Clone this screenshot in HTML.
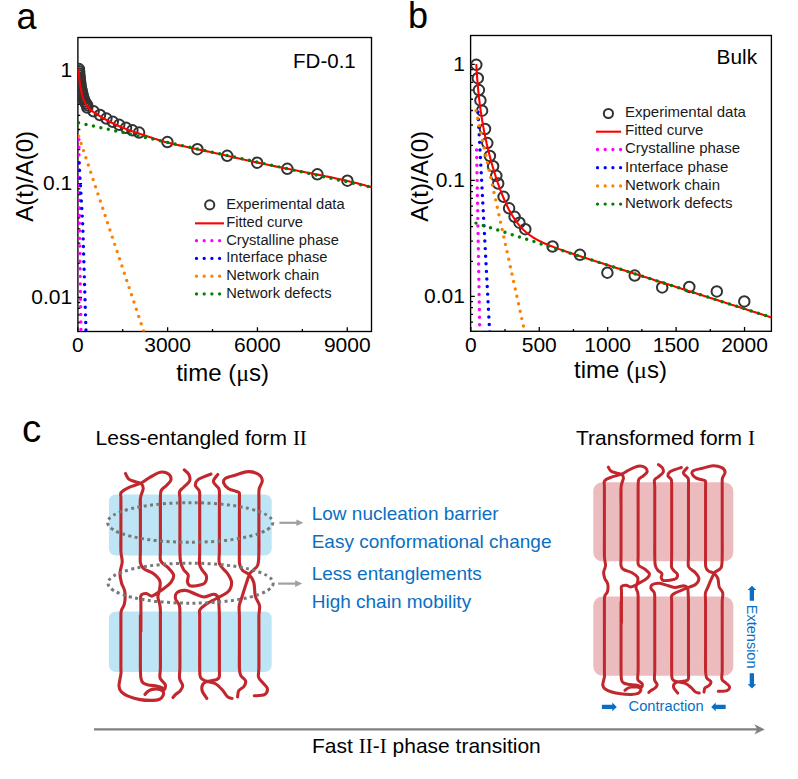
<!DOCTYPE html><html><head><meta charset="utf-8"><style>html,body{margin:0;padding:0;background:#fff;width:798px;height:779px;overflow:hidden}</style></head><body><svg width="798" height="779" viewBox="0 0 798 779" style="display:block">
<rect width="798" height="779" fill="#fff"/>
<text x="16.5" y="29" font-family='"Liberation Sans", sans-serif' font-size="36" fill="#000" text-anchor="start" >a</text>
<text x="408" y="27.6" font-family='"Liberation Sans", sans-serif' font-size="36" fill="#000" text-anchor="start" >b</text>
<text x="22" y="442" font-family='"Liberation Sans", sans-serif' font-size="38.5" fill="#000" text-anchor="start" >c</text>
<defs><clipPath id="ca"><rect x="77.9" y="37.5" width="293.6" height="294"/></clipPath></defs>
<rect x="77.9" y="37.5" width="293.6" height="294" fill="none" stroke="#000" stroke-width="1.35"/>
<path d="M77.8 331.5V327.3M167.62 331.5V327.3M257.44 331.5V327.3M347.26 331.5V327.3M122.71 331.5V329.1M212.53 331.5V329.1M302.35 331.5V329.1M77.9 322.5H80.3M77.9 314.9H80.3M77.9 308.31H80.3M77.9 302.5H80.3M77.9 297.3H82.1M77.9 263.1H80.3M77.9 243.1H80.3M77.9 228.91H80.3M77.9 217.9H80.3M77.9 208.9H80.3M77.9 201.3H80.3M77.9 194.71H80.3M77.9 188.9H80.3M77.9 183.7H82.1M77.9 149.5H80.3M77.9 129.5H80.3M77.9 115.31H80.3M77.9 104.3H80.3M77.9 95.3H80.3M77.9 87.7H80.3M77.9 81.11H80.3M77.9 75.3H80.3M77.9 70.1H82.1" stroke="#000" stroke-width="1.3" fill="none"/>
<text x="77.8" y="351.8" font-family='"Liberation Sans", sans-serif' font-size="21" fill="#000" text-anchor="middle" >0</text>
<text x="167.62" y="351.8" font-family='"Liberation Sans", sans-serif' font-size="21" fill="#000" text-anchor="middle" >3000</text>
<text x="257.44" y="351.8" font-family='"Liberation Sans", sans-serif' font-size="21" fill="#000" text-anchor="middle" >6000</text>
<text x="347.26" y="351.8" font-family='"Liberation Sans", sans-serif' font-size="21" fill="#000" text-anchor="middle" >9000</text>
<text x="72.2" y="76.5" font-family='"Liberation Sans", sans-serif' font-size="21" fill="#000" text-anchor="end" >1</text>
<text x="72.2" y="190.1" font-family='"Liberation Sans", sans-serif' font-size="21" fill="#000" text-anchor="end" >0.1</text>
<text x="72.2" y="303.7" font-family='"Liberation Sans", sans-serif' font-size="21" fill="#000" text-anchor="end" >0.01</text>
<text x="176.2" y="380.7" font-family='"Liberation Sans", sans-serif' font-size="24" fill="#000" text-anchor="start" >time (<tspan font-family='"Liberation Serif", serif'>&#956;</tspan>s)</text>
<text transform="translate(33.4 221.7) rotate(-90)" font-family='"Liberation Sans", sans-serif' font-size="24" fill="#000">A(t)/A(0)</text>
<text x="293.1" y="68.3" font-family='"Liberation Sans", sans-serif' font-size="20.5" fill="#000" text-anchor="start" >FD-0.1</text>
<g clip-path="url(#ca)" fill="none" stroke="#333" stroke-width="2">
<circle cx="78.92" cy="69.1" r="5.25"/>
<circle cx="79.06" cy="71.3" r="5.25"/>
<circle cx="79.22" cy="73.5" r="5.25"/>
<circle cx="79.41" cy="75.69" r="5.25"/>
<circle cx="79.63" cy="77.88" r="5.25"/>
<circle cx="79.86" cy="80.06" r="5.25"/>
<circle cx="80.12" cy="82.24" r="5.25"/>
<circle cx="80.42" cy="84.43" r="5.25"/>
<circle cx="80.76" cy="86.61" r="5.25"/>
<circle cx="81.14" cy="88.77" r="5.25"/>
<circle cx="81.57" cy="90.92" r="5.25"/>
<circle cx="82.04" cy="93.09" r="5.25"/>
<circle cx="82.58" cy="95.27" r="5.25"/>
<circle cx="83.2" cy="97.41" r="5.25"/>
<circle cx="83.92" cy="99.47" r="5.25"/>
<circle cx="84.74" cy="101.43" r="5.25"/>
<circle cx="85.82" cy="103.32" r="5.25"/>
<circle cx="87.12" cy="105.15" r="5.25"/>
<circle cx="87.3" cy="107.6" r="5.25"/>
<circle cx="93.6" cy="111.3" r="5.25"/>
<circle cx="100" cy="115" r="5.25"/>
<circle cx="106.4" cy="118.6" r="5.25"/>
<circle cx="112.8" cy="121.8" r="5.25"/>
<circle cx="119.2" cy="124.8" r="5.25"/>
<circle cx="126" cy="127.8" r="5.25"/>
<circle cx="132.4" cy="130.3" r="5.25"/>
<circle cx="139.1" cy="132.6" r="5.25"/>
<circle cx="167.4" cy="142.1" r="5.25"/>
<circle cx="197.4" cy="149.2" r="5.25"/>
<circle cx="227.2" cy="155.8" r="5.25"/>
<circle cx="257.2" cy="162.7" r="5.25"/>
<circle cx="287.3" cy="168.8" r="5.25"/>
<circle cx="317.4" cy="174.3" r="5.25"/>
<circle cx="347.4" cy="180.7" r="5.25"/>
</g>
<path d="M78.6 68.9 78.66 70.03 78.73 71.16 78.8 72.29 78.89 73.41 78.98 74.54 79.08 75.66 79.19 76.78 79.3 77.91 79.42 79.03 79.54 80.15 79.66 81.27 79.8 82.39 79.95 83.51 80.1 84.63 80.27 85.75 80.45 86.87 80.64 87.98 80.85 89.09 81.06 90.2 81.28 91.3 81.52 92.41 81.77 93.52 82.04 94.64 82.33 95.76 82.65 96.86 82.98 97.95 83.34 99.01 83.73 100.05 84.14 101.06 84.6 102.04 85.14 103.01 85.75 103.97 86.41 104.91 87.12 105.83 87.87 106.73 88.64 107.59 89.42 108.42 90.21 109.21 91 109.96 91.83 110.68 92.7 111.38 93.6 112.06 94.53 112.71 95.48 113.35 96.44 113.98 97.41 114.59 98.39 115.19 99.36 115.79 100.33 116.38 101.29 116.96 102.26 117.54 103.23 118.11 104.21 118.68 105.19 119.23 106.18 119.79 107.17 120.33 108.17 120.87 109.17 121.4 110.17 121.92 111.18 122.43 112.19 122.94 113.21 123.43 114.22 123.92 115.24 124.4 116.26 124.88 117.29 125.34 118.32 125.8 119.35 126.24 120.39 126.69 121.43 127.12 122.48 127.55 123.53 127.97 124.58 128.39 125.63 128.8 126.69 129.21 127.74 129.61 128.8 130.01 129.86 130.4 130.92 130.79 131.98 131.17 133.04 131.55 134.11 131.92 135.18 132.28 136.25 132.64 137.32 133 138.4 133.35 139.47 133.7 140.54 134.05 141.61 134.4 142.69 134.75 143.76 135.11 144.83 135.47 145.9 135.82 146.97 136.18 148.05 136.54 149.12 136.9 150.19 137.26 151.26 137.61 152.34 137.97 153.41 138.32 154.49 138.67 155.56 139.01 156.64 139.36 157.71 139.7 158.79 140.04 159.87 140.37 160.95 140.69 162.03 141.02 163.11 141.33 164.2 141.64 165.28 141.95 166.37 142.25 167.46 142.54 168.55 142.82 169.64 143.1 170.73 143.37 171.82 143.64 172.92 143.9 174.02 144.16 175.12 144.41 176.22 144.66 177.32 144.91 178.42 145.15 179.52 145.39 180.63 145.63 181.73 145.87 182.84 146.11 183.94 146.34 185.05 146.57 186.15 146.81 187.26 147.04 188.37 147.27 189.47 147.5 190.58 147.73 191.68 147.97 192.79 148.2 193.89 148.44 195 148.67 196.1 148.91 197.2 149.16 198.31 149.4 199.41 149.65 200.51 149.89 201.61 150.13 202.71 150.38 203.82 150.62 204.92 150.87 206.02 151.11 207.12 151.35 208.22 151.6 209.33 151.84 210.43 152.08 211.53 152.33 212.63 152.57 213.74 152.82 214.84 153.06 215.94 153.3 217.04 153.55 218.14 153.79 219.25 154.04 220.35 154.28 221.45 154.52 222.55 154.77 223.65 155.01 224.76 155.26 225.86 155.5 226.96 155.75 228.06 155.99 229.16 156.24 230.26 156.48 231.37 156.73 232.47 156.98 233.57 157.23 234.67 157.47 235.77 157.72 236.87 157.97 237.97 158.22 239.07 158.47 240.18 158.72 241.28 158.97 242.38 159.21 243.48 159.46 244.58 159.71 245.68 159.96 246.78 160.2 247.89 160.45 248.99 160.7 250.09 160.94 251.19 161.18 252.29 161.43 253.4 161.67 254.5 161.91 255.6 162.15 256.7 162.39 257.81 162.63 258.91 162.87 260.01 163.11 261.12 163.34 262.22 163.58 263.32 163.82 264.43 164.05 265.53 164.29 266.64 164.52 267.74 164.76 268.85 164.99 269.95 165.22 271.05 165.46 272.16 165.69 273.26 165.92 274.37 166.15 275.47 166.38 276.58 166.61 277.68 166.84 278.79 167.07 279.9 167.3 281 167.52 282.11 167.75 283.21 167.97 284.32 168.2 285.43 168.42 286.53 168.65 287.64 168.87 288.75 169.09 289.85 169.31 290.96 169.52 292.07 169.74 293.18 169.96 294.29 170.17 295.39 170.38 296.5 170.59 297.61 170.8 298.72 171.01 299.83 171.22 300.94 171.43 302.05 171.64 303.16 171.85 304.27 172.06 305.38 172.27 306.49 172.48 307.59 172.69 308.7 172.9 309.81 173.11 310.92 173.33 312.03 173.54 313.14 173.76 314.24 173.97 315.35 174.19 316.46 174.41 317.57 174.63 318.67 174.86 319.78 175.08 320.89 175.3 321.99 175.52 323.1 175.74 324.21 175.96 325.31 176.19 326.42 176.41 327.53 176.63 328.64 176.86 329.74 177.08 330.85 177.31 331.95 177.53 333.06 177.76 334.17 177.99 335.27 178.22 336.38 178.45 337.48 178.69 338.58 178.93 339.69 179.16 340.79 179.4 341.89 179.65 342.99 179.89 344.09 180.14 345.19 180.39 346.29 180.64 347.39 180.9 348.49 181.16 349.59 181.42 350.68 181.68 351.78 181.95 352.87 182.22 353.97 182.49 355.06 182.77 356.16 183.05 357.25 183.33 358.34 183.61 359.44 183.9 360.53 184.19 361.62 184.48 362.71 184.77 363.8 185.06 364.89 185.36 365.98 185.66 367.07 185.96 368.15 186.27 369.24 186.57 370.33 186.88 371.41 187.19 372.5 187.5" fill="none" stroke="#f00" stroke-width="2.1" clip-path="url(#ca)"/>
<path d="M78.9 139.6 79.4 224.4 81 334" fill="none" stroke="#f0f" stroke-width="3.45" stroke-linecap="round" stroke-dasharray="0 7.6" clip-path="url(#ca)"/>
<path d="M79.1 163 82.7 224 86.1 334" fill="none" stroke="#00f" stroke-width="3.45" stroke-linecap="round" stroke-dasharray="0 7.6" clip-path="url(#ca)"/>
<path d="M78.7 136.2 144.6 334" fill="none" stroke="#ff7f00" stroke-width="3.45" stroke-linecap="round" stroke-dasharray="0 7.6" clip-path="url(#ca)"/>
<path d="M78.6 122.8 371.5 187.2" fill="none" stroke="#008000" stroke-width="3.45" stroke-linecap="round" stroke-dasharray="0 7.6" clip-path="url(#ca)"/>
<circle cx="209.7" cy="204.9" r="4.6" fill="none" stroke="#333" stroke-width="2"/>
<text x="226.2" y="209" font-family='"Liberation Sans", sans-serif' font-size="14.7" fill="#1a1a1a" text-anchor="start" >Experimental data</text>
<path d="M195 223.35H224" stroke="#f00" stroke-width="2.1"/>
<text x="226.2" y="226.75" font-family='"Liberation Sans", sans-serif' font-size="14.7" fill="#1a1a1a" text-anchor="start" >Fitted curve</text>
<path d="M196.5 240.7H219.7" stroke="#f0f" stroke-width="3.3" stroke-linecap="round" stroke-dasharray="0 7.7"/>
<text x="226.2" y="244.5" font-family='"Liberation Sans", sans-serif' font-size="14.7" fill="#1a1a1a" text-anchor="start" >Crystalline phase</text>
<path d="M196.5 258.45H219.7" stroke="#00f" stroke-width="3.3" stroke-linecap="round" stroke-dasharray="0 7.7"/>
<text x="226.2" y="262.25" font-family='"Liberation Sans", sans-serif' font-size="14.7" fill="#1a1a1a" text-anchor="start" >Interface phase</text>
<path d="M196.5 276.2H219.7" stroke="#ff7f00" stroke-width="3.3" stroke-linecap="round" stroke-dasharray="0 7.7"/>
<text x="226.2" y="280" font-family='"Liberation Sans", sans-serif' font-size="14.7" fill="#1a1a1a" text-anchor="start" >Network chain</text>
<path d="M196.5 293.95H219.7" stroke="#008000" stroke-width="3.3" stroke-linecap="round" stroke-dasharray="0 7.7"/>
<text x="226.2" y="297.75" font-family='"Liberation Sans", sans-serif' font-size="14.7" fill="#1a1a1a" text-anchor="start" >Network defects</text>
<defs><clipPath id="cb"><rect x="470.6" y="35.5" width="300.8" height="295.8"/></clipPath></defs>
<rect x="470.6" y="35.5" width="300.8" height="295.8" fill="none" stroke="#000" stroke-width="1.35"/>
<path d="M470.8 331.3V327.1M539.24 331.3V327.1M607.67 331.3V327.1M676.11 331.3V327.1M744.54 331.3V327.1M505.02 331.3V328.9M573.45 331.3V328.9M641.89 331.3V328.9M710.32 331.3V328.9M470.6 322.15H473M470.6 314.38H473M470.6 307.65H473M470.6 301.71H473M470.6 296.4H474.8M470.6 261.47H473M470.6 241.03H473M470.6 226.53H473M470.6 215.28H473M470.6 206.1H473M470.6 198.33H473M470.6 191.6H473M470.6 185.66H473M470.6 180.35H474.8M470.6 145.42H473M470.6 124.98H473M470.6 110.48H473M470.6 99.23H473M470.6 90.05H473M470.6 82.28H473M470.6 75.55H473M470.6 69.61H473M470.6 64.3H474.8" stroke="#000" stroke-width="1.3" fill="none"/>
<text x="470.8" y="351.8" font-family='"Liberation Sans", sans-serif' font-size="21" fill="#000" text-anchor="middle" >0</text>
<text x="539.24" y="351.8" font-family='"Liberation Sans", sans-serif' font-size="21" fill="#000" text-anchor="middle" >500</text>
<text x="607.67" y="351.8" font-family='"Liberation Sans", sans-serif' font-size="21" fill="#000" text-anchor="middle" >1000</text>
<text x="676.11" y="351.8" font-family='"Liberation Sans", sans-serif' font-size="21" fill="#000" text-anchor="middle" >1500</text>
<text x="744.54" y="351.8" font-family='"Liberation Sans", sans-serif' font-size="21" fill="#000" text-anchor="middle" >2000</text>
<text x="464.9" y="70.7" font-family='"Liberation Sans", sans-serif' font-size="21" fill="#000" text-anchor="end" >1</text>
<text x="464.9" y="186.75" font-family='"Liberation Sans", sans-serif' font-size="21" fill="#000" text-anchor="end" >0.1</text>
<text x="464.9" y="302.8" font-family='"Liberation Sans", sans-serif' font-size="21" fill="#000" text-anchor="end" >0.01</text>
<text x="574" y="377.5" font-family='"Liberation Sans", sans-serif' font-size="24" fill="#000" text-anchor="start" >time (<tspan font-family='"Liberation Serif", serif'>&#956;</tspan>s)</text>
<text transform="translate(428.1 221.7) rotate(-90)" font-family='"Liberation Sans", sans-serif' font-size="24" fill="#000">A(t)/A(0)</text>
<text x="716.6" y="63.9" font-family='"Liberation Sans", sans-serif' font-size="20.8" fill="#000" text-anchor="start" >Bulk</text>
<g clip-path="url(#cb)" fill="none" stroke="#333" stroke-width="2">
<circle cx="476.3" cy="64.8" r="5.25"/>
<circle cx="477.8" cy="78.2" r="5.25"/>
<circle cx="478.9" cy="90.1" r="5.25"/>
<circle cx="480.4" cy="100.4" r="5.25"/>
<circle cx="482.1" cy="110.7" r="5.25"/>
<circle cx="485" cy="129" r="5.25"/>
<circle cx="487.3" cy="143.1" r="5.25"/>
<circle cx="489.9" cy="156" r="5.25"/>
<circle cx="493.1" cy="166.2" r="5.25"/>
<circle cx="496.3" cy="175.8" r="5.25"/>
<circle cx="498.2" cy="183.5" r="5.25"/>
<circle cx="503.6" cy="196.8" r="5.25"/>
<circle cx="509.1" cy="208.3" r="5.25"/>
<circle cx="514.6" cy="216.8" r="5.25"/>
<circle cx="519.5" cy="222.7" r="5.25"/>
<circle cx="525.3" cy="229.2" r="5.25"/>
<circle cx="552.6" cy="246.5" r="5.25"/>
<circle cx="579.9" cy="254.8" r="5.25"/>
<circle cx="607.4" cy="272.7" r="5.25"/>
<circle cx="634.7" cy="275.6" r="5.25"/>
<circle cx="662.2" cy="287.4" r="5.25"/>
<circle cx="689.3" cy="286.9" r="5.25"/>
<circle cx="716.8" cy="291.4" r="5.25"/>
<circle cx="744.3" cy="301.4" r="5.25"/>
</g>
<path d="M476.27 64.13 476.41 66.52 476.55 68.79 476.69 70.96 476.82 73.03 476.96 75.02 477.1 76.92 477.23 78.74 477.37 80.5 477.51 82.19 477.64 83.82 477.78 85.39 477.92 86.91 478.05 88.38 478.19 89.81 478.33 91.19 478.46 92.54 478.6 93.85 478.74 95.13 478.88 96.37 479.01 97.59 479.15 98.78 479.29 99.94 479.42 101.08 479.56 102.2 479.7 103.3 479.83 104.37 479.97 105.43 480.11 106.46 480.24 107.48 480.38 108.49 480.52 109.47 480.65 110.44 480.79 111.4 480.93 112.34 481.07 113.27 481.2 114.19 481.34 115.09 481.48 115.98 481.61 116.86 481.75 117.73 481.89 118.59 482.02 119.43 482.16 120.27 482.3 121.09 482.43 121.91 482.57 122.71 482.71 123.51 482.84 124.3 482.98 125.07 483.12 125.84 483.26 126.61 483.39 127.36 483.53 128.1 483.67 128.84 483.8 129.57 483.94 130.29 484.08 131.01 484.21 131.72 484.35 132.42 484.49 133.11 484.62 133.8 484.76 134.48 484.9 135.16 485.03 135.83 485.17 136.49 485.31 137.15 485.45 137.8 485.58 138.45 485.72 139.09 485.86 139.72 485.99 140.35 486.13 140.98 486.27 141.6 486.4 142.22 486.54 142.83 486.68 143.43 486.81 144.04 486.95 144.63 487.09 145.23 487.22 145.82 487.36 146.4 487.5 146.98 487.64 147.56 487.77 148.13 487.91 148.7 488.05 149.27 488.18 149.83 488.32 150.39 488.46 150.94 488.59 151.49 488.73 152.04 488.87 152.58 489 153.13 489.14 153.66 489.28 154.2 489.41 154.73 489.55 155.26 489.69 155.79 489.82 156.31 489.96 156.83 490.1 157.35 490.24 157.86 490.37 158.37 490.51 158.88 490.65 159.39 490.78 159.89 490.92 160.39 491.06 160.89 491.19 161.39 491.33 161.88 491.47 162.38 491.6 162.87 491.74 163.35 491.88 163.84 492.01 164.32 492.15 164.8 492.29 165.28 492.43 165.75 492.56 166.22 492.7 166.7 492.84 167.16 492.97 167.63 493.11 168.1 493.25 168.56 493.38 169.02 493.52 169.48 493.66 169.93 493.79 170.39 493.93 170.84 494.07 171.29 494.2 171.74 494.34 172.18 494.48 172.63 494.62 173.07 494.75 173.51 494.89 173.95 495.03 174.39 495.16 174.82 495.3 175.25 495.44 175.68 495.57 176.11 495.71 176.54 495.85 176.97 495.98 177.39 496.12 177.81 496.26 178.23 496.39 178.65 496.53 179.06 496.67 179.48 496.81 179.89 496.94 180.3 497.08 180.71 497.22 181.12 497.35 181.52 497.49 181.92 497.63 182.33 497.76 182.73 497.9 183.12 498.04 183.52 498.17 183.91 499.54 187.76 500.91 191.44 502.28 194.94 503.65 198.27 505.02 201.43 506.39 204.43 507.75 207.26 509.12 209.94 510.49 212.46 511.86 214.83 513.23 217.06 514.6 219.14 515.97 221.1 517.34 222.93 518.7 224.65 520.07 226.26 521.44 227.76 522.81 229.17 524.18 230.49 525.55 231.72 526.92 232.88 528.29 233.98 529.65 235.01 531.02 235.98 532.39 236.9 533.76 237.77 535.13 238.59 536.5 239.38 537.87 240.13 539.24 240.85 540.6 241.54 541.97 242.21 543.34 242.85 544.71 243.47 546.08 244.07 547.45 244.65 548.82 245.22 550.18 245.77 551.55 246.31 552.92 246.84 554.29 247.36 555.66 247.88 557.03 248.38 558.4 248.88 559.77 249.37 561.13 249.85 562.5 250.33 563.87 250.81 565.24 251.28 566.61 251.75 567.98 252.21 569.35 252.67 570.72 253.13 572.08 253.59 573.45 254.04 574.82 254.5 576.19 254.95 577.56 255.4 578.93 255.84 580.3 256.29 581.66 256.74 583.03 257.18 584.4 257.63 585.77 258.07 587.14 258.51 588.51 258.96 589.88 259.4 591.25 259.84 592.61 260.28 593.98 260.72 595.35 261.16 596.72 261.6 598.09 262.04 599.46 262.48 600.83 262.92 602.2 263.36 603.56 263.8 604.93 264.24 606.3 264.67 607.67 265.11 609.04 265.55 610.41 265.99 611.78 266.43 613.14 266.87 614.51 267.3 615.88 267.74 617.25 268.18 618.62 268.62 619.99 269.06 621.36 269.49 622.73 269.93 624.09 270.37 625.46 270.81 626.83 271.24 628.2 271.68 629.57 272.12 630.94 272.56 632.31 272.99 633.68 273.43 635.04 273.87 636.41 274.31 637.78 274.75 639.15 275.18 640.52 275.62 641.89 276.06 643.26 276.5 644.62 276.93 645.99 277.37 647.36 277.81 648.73 278.25 650.1 278.68 651.47 279.12 652.84 279.56 654.21 280 655.57 280.43 656.94 280.87 658.31 281.31 659.68 281.75 661.05 282.18 662.42 282.62 663.79 283.06 665.16 283.5 666.52 283.93 667.89 284.37 669.26 284.81 670.63 285.25 672 285.68 673.37 286.12 674.74 286.56 676.11 287 677.47 287.43 678.84 287.87 680.21 288.31 681.58 288.75 682.95 289.18 684.32 289.62 685.69 290.06 687.05 290.5 688.42 290.93 689.79 291.37 691.16 291.81 692.53 292.25 693.9 292.68 695.27 293.12 696.64 293.56 698 294 699.37 294.43 700.74 294.87 702.11 295.31 703.48 295.75 704.85 296.18 706.22 296.62 707.59 297.06 708.95 297.5 710.32 297.93 711.69 298.37 713.06 298.81 714.43 299.25 715.8 299.68 717.17 300.12 718.53 300.56 719.9 301 721.27 301.43 722.64 301.87 724.01 302.31 725.38 302.75 726.75 303.18 728.12 303.62 729.48 304.06 730.85 304.5 732.22 304.93 733.59 305.37 734.96 305.81 736.33 306.25 737.7 306.68 739.07 307.12 740.43 307.56 741.8 308 743.17 308.43 744.54 308.87 745.91 309.31 747.28 309.75 748.65 310.18 750.01 310.62 751.38 311.06 752.75 311.5 754.12 311.93 755.49 312.37 756.86 312.81 758.23 313.25 759.6 313.68 760.96 314.12 762.33 314.56 763.7 315 765.07 315.43 766.44 315.87 767.81 316.31 769.18 316.75 770.55 317.18 771.91 317.62 773.28 318.06 774.65 318.5 776.02 318.93 777.39 319.37 778.76 319.81 780.13 320.25 781.49 320.68 782.86 321.12 784.23 321.56" fill="none" stroke="#f00" stroke-width="2.1" clip-path="url(#cb)"/>
<path d="M476.6 150 479.8 333" fill="none" stroke="#f0f" stroke-width="3.45" stroke-linecap="round" stroke-dasharray="0 7.6" clip-path="url(#cb)"/>
<path d="M478 112 489.7 333" fill="none" stroke="#00f" stroke-width="3.45" stroke-linecap="round" stroke-dasharray="0 7.6" clip-path="url(#cb)"/>
<path d="M476 110.8 525.2 334" fill="none" stroke="#ff7f00" stroke-width="3.45" stroke-linecap="round" stroke-dasharray="0 7.6" clip-path="url(#cb)"/>
<path d="M476 223.1 771.4 317.4" fill="none" stroke="#008000" stroke-width="3.45" stroke-linecap="round" stroke-dasharray="0 7.6" clip-path="url(#cb)"/>
<circle cx="608.4" cy="113.5" r="4.6" fill="none" stroke="#333" stroke-width="2"/>
<text x="625" y="116.9" font-family='"Liberation Sans", sans-serif' font-size="15" fill="#1a1a1a" text-anchor="start" >Experimental data</text>
<path d="M596 131.7H621.1" stroke="#f00" stroke-width="2.1"/>
<text x="625" y="135.1" font-family='"Liberation Sans", sans-serif' font-size="15" fill="#1a1a1a" text-anchor="start" >Fitted curve</text>
<path d="M597.5 149.5H620.7" stroke="#f0f" stroke-width="3.3" stroke-linecap="round" stroke-dasharray="0 7.7"/>
<text x="625" y="153.3" font-family='"Liberation Sans", sans-serif' font-size="15" fill="#1a1a1a" text-anchor="start" >Crystalline phase</text>
<path d="M597.5 167.7H620.7" stroke="#00f" stroke-width="3.3" stroke-linecap="round" stroke-dasharray="0 7.7"/>
<text x="625" y="171.5" font-family='"Liberation Sans", sans-serif' font-size="15" fill="#1a1a1a" text-anchor="start" >Interface phase</text>
<path d="M597.5 185.9H620.7" stroke="#ff7f00" stroke-width="3.3" stroke-linecap="round" stroke-dasharray="0 7.7"/>
<text x="625" y="189.7" font-family='"Liberation Sans", sans-serif' font-size="15" fill="#1a1a1a" text-anchor="start" >Network chain</text>
<path d="M597.5 204.1H620.7" stroke="#008000" stroke-width="3.3" stroke-linecap="round" stroke-dasharray="0 7.7"/>
<text x="625" y="207.9" font-family='"Liberation Sans", sans-serif' font-size="15" fill="#1a1a1a" text-anchor="start" >Network defects</text>
<rect x="108.9" y="494.4" width="162.8" height="61.1" rx="7" fill="#bee5f5"/>
<rect x="108.9" y="611.5" width="162.8" height="60.6" rx="7" fill="#bee5f5"/>
<path d="M125.5 473.5C126 474.38 127 477.47 128.5 478.8C130 480.13 132.43 480.73 134.5 481.5C136.57 482.27 139.45 482.23 140.9 483.4C142.35 484.57 143.28 486 143.2 488.5C143.12 491 140.87 494.08 140.4 498.4C139.93 502.72 140.4 511.73 140.4 514.4M120.9 514.4C120.9 511.73 120.85 502.05 120.9 498.4C120.95 494.75 119.92 494.3 121.2 492.5C122.48 490.7 125.32 489.15 128.6 487.6C131.88 486.05 137.3 484.95 140.9 483.2C144.5 481.45 146.95 478.93 150.2 477.1C153.45 475.27 157.35 472.72 160.4 472.2C163.45 471.68 166.75 472.7 168.5 474C170.25 475.3 171.23 478.08 170.9 480C170.57 481.92 168.12 483.75 166.5 485.5C164.88 487.25 162.22 488.35 161.2 490.5C160.18 492.65 160.53 494.42 160.4 498.4C160.27 502.38 160.4 511.73 160.4 514.4M184.3 469.9C185.07 470.67 188.02 472.65 188.9 474.5C189.78 476.35 190.47 478.88 189.6 481C188.73 483.12 185.37 485.45 183.7 487.2C182.03 488.95 180.23 489.63 179.6 491.5C178.97 493.37 179.85 494.58 179.9 498.4C179.95 502.22 179.9 511.73 179.9 514.4M211 474C209.88 474.43 206.53 475.6 204.3 476.6C202.07 477.6 199.08 478.5 197.6 480C196.12 481.5 195.12 483.77 195.4 485.6C195.68 487.43 198.58 488.87 199.3 491C200.02 493.13 199.63 494.5 199.7 498.4C199.77 502.3 199.7 511.73 199.7 514.4M217.8 474.5C217.07 475.67 213.27 479.2 213.4 481.5C213.53 483.8 217.6 486.55 218.6 488.3C219.6 490.05 219.27 490.32 219.4 492C219.53 493.68 219.4 494.67 219.4 498.4C219.4 502.13 219.4 511.73 219.4 514.4M239.4 514.4C239.4 511.73 239.43 502 239.4 498.4C239.37 494.8 239.8 494 239.2 492.8C238.6 491.6 237.57 491.88 235.8 491.2C234.03 490.52 230.62 490.07 228.6 488.7C226.58 487.33 224.22 484.75 223.7 483C223.18 481.25 223.48 479.53 225.5 478.2C227.52 476.87 232.03 476.1 235.8 475C239.57 473.9 244.33 471.73 248.1 471.6C251.87 471.47 256.03 472.72 258.4 474.2C260.77 475.68 262.13 478.2 262.3 480.5C262.47 482.8 259.97 486.08 259.4 488C258.83 489.92 258.98 490.27 258.9 492C258.82 493.73 258.9 494.67 258.9 498.4C258.9 502.13 258.9 511.73 258.9 514.4M120.9 535.5C120.9 538.17 120.68 547.08 120.9 551.5C121.12 555.92 122.35 558.42 122.2 562C122.05 565.58 120.12 569.5 120 573C119.88 576.5 120.7 579.92 121.5 583C122.3 586.08 124.3 588.08 124.8 591.5C125.3 594.92 125.07 600.33 124.5 603.5C123.93 606.67 122 608.5 121.4 610.5C120.8 612.5 120.98 612 120.9 615.5C120.82 619 120.9 628.83 120.9 631.5M140.4 535.5C140.4 538.17 140.4 546.97 140.4 551.5C140.4 556.03 139.87 559.85 140.4 562.7C140.93 565.55 141.45 566.8 143.6 568.6C145.75 570.4 150.6 571.47 153.3 573.5C156 575.53 158.75 578.18 159.8 580.8C160.85 583.42 159.92 586.5 159.6 589.2C159.28 591.9 157.87 594.45 157.9 597C157.93 599.55 159.38 602.25 159.8 604.5C160.22 606.75 160.3 608.67 160.4 610.5C160.5 612.33 160.4 612 160.4 615.5C160.4 619 160.4 628.83 160.4 631.5M160.4 535.5C160.4 538.17 160.33 547.25 160.4 551.5C160.47 555.75 159.57 558.35 160.8 561C162.03 563.65 165.67 565.07 167.8 567.4C169.93 569.73 173.07 572.53 173.6 575C174.13 577.47 172.85 579.8 171 582.2C169.15 584.6 165.63 587.1 162.5 589.4C159.37 591.7 154.88 595.32 152.2 596C149.52 596.68 148.27 593.58 146.4 593.5C144.53 593.42 141.92 593.92 141 595.5C140.08 597.08 140.92 599.67 140.9 603C140.88 606.33 140.9 610.75 140.9 615.5C140.9 620.25 140.9 628.83 140.9 631.5M179.9 535.5C179.9 538.17 179.78 547.08 179.9 551.5C180.02 555.92 180 559 180.6 562C181.2 565 182.23 567.33 183.5 569.5C184.77 571.67 187.55 573 188.2 575C188.85 577 187.1 579.7 187.4 581.5C187.7 583.3 188.23 585.15 190 585.8C191.77 586.45 195.53 585.87 198 585.4C200.47 584.93 203.4 584.57 204.8 583C206.2 581.43 206.78 578.08 206.4 576C206.02 573.92 203.63 572.42 202.5 570.5C201.37 568.58 200.07 567.67 199.6 564.5C199.13 561.33 199.68 556.33 199.7 551.5C199.72 546.67 199.7 538.17 199.7 535.5M219.4 535.5C219.4 538.17 219.37 546.75 219.4 551.5C219.43 556.25 218.25 560.33 219.6 564C220.95 567.67 225.5 570.42 227.5 573.5C229.5 576.58 231.52 579.45 231.6 582.5C231.68 585.55 230.55 589.13 228 591.8C225.45 594.47 220.13 596.3 216.3 598.5C212.47 600.7 207.75 603.08 205 605C202.25 606.92 200.68 608.25 199.8 610C198.92 611.75 199.72 611.92 199.7 615.5C199.68 619.08 199.7 628.83 199.7 631.5M179.9 631.5C179.9 628.83 179.98 619.83 179.9 615.5C179.82 611.17 180.12 608.25 179.4 605.5C178.68 602.75 176.03 601.12 175.6 599C175.17 596.88 175.15 594.23 176.8 592.8C178.45 591.37 182.33 590.17 185.5 590.4C188.67 590.63 192.72 593.1 195.8 594.2C198.88 595.3 201 597 204 597C207 597 211.43 594.12 213.8 594.2C216.17 594.28 217.33 595.53 218.2 597.5C219.07 599.47 218.8 603 219 606C219.2 609 219.33 611.25 219.4 615.5C219.47 619.75 219.4 628.83 219.4 631.5M239.4 535.5C239.4 538.17 239.37 546.75 239.4 551.5C239.43 556.25 239.07 560.83 239.6 564C240.13 567.17 241.02 568.75 242.6 570.5C244.18 572.25 247.23 572.5 249.1 574.5C250.97 576.5 252.77 578.92 253.8 582.5C254.83 586.08 254.35 592.17 255.3 596C256.25 599.83 258.9 602.25 259.5 605.5C260.1 608.75 259 611.17 258.9 615.5C258.8 619.83 258.9 628.83 258.9 631.5M258.9 535.5C258.9 538.17 259.12 546.5 258.9 551.5C258.68 556.5 259.05 561.92 257.6 565.5C256.15 569.08 252.07 570.08 250.2 573C248.33 575.92 247.85 578.75 246.4 583C244.95 587.25 242.7 594.67 241.5 598.5C240.3 602.33 239.55 603.17 239.2 606C238.85 608.83 239.37 611.25 239.4 615.5C239.43 619.75 239.4 628.83 239.4 631.5M120.9 652.1C120.9 654.77 120.88 664.62 120.9 668.1C120.92 671.58 121.12 671.35 121 673C120.88 674.65 120.53 675.8 120.2 678C119.87 680.2 118.8 683.88 119 686.2C119.2 688.52 119.78 690.2 121.4 691.9C123.02 693.6 125.58 695.12 128.7 696.4C131.82 697.68 136.17 698.93 140.1 699.6C144.03 700.27 149.03 700.47 152.3 700.4C155.57 700.33 157.93 699.95 159.7 699.2C161.47 698.45 162.3 697.12 162.9 695.9C163.5 694.68 163.83 692.98 163.3 691.9C162.77 690.82 161.53 689.82 159.7 689.4C157.87 688.98 154.2 689.12 152.3 689.4C150.4 689.68 149.52 690.28 148.3 691.1C147.08 691.92 145.55 693.77 145 694.3M140.4 652.1C140.4 654.77 140.32 663.78 140.4 668.1C140.48 672.42 140.47 675.53 140.9 678C141.33 680.47 141.77 681.73 143 682.9C144.23 684.07 145.93 684.45 148.3 685C150.67 685.55 154.9 685.73 157.2 686.2C159.5 686.67 160.97 687.17 162.1 687.8C163.23 688.43 163.68 689.63 164 690M160.4 652.1C160.4 654.77 160.48 663.92 160.4 668.1C160.32 672.28 159.62 675.07 159.9 677.2C160.18 679.33 161.22 679.68 162.1 680.9C162.98 682.12 164.73 683.22 165.2 684.5C165.67 685.78 165.27 687.6 164.9 688.6C164.53 689.6 163.32 690.18 163 690.5M179.9 652.1C179.9 654.77 179.95 663.72 179.9 668.1C179.85 672.48 179.13 675.48 179.6 678.4C180.07 681.32 182.58 683.55 182.7 685.6C182.82 687.65 181.5 689.22 180.3 690.7C179.1 692.18 176.72 693.37 175.5 694.5C174.28 695.63 173.42 697 173 697.5M199.7 652.1C199.7 654.77 199.57 663.88 199.7 668.1C199.83 672.32 199.48 675.25 200.5 677.4C201.52 679.55 203.38 679.98 205.8 681C208.22 682.02 212.27 682.05 215 683.5C217.73 684.95 220.13 687.52 222.2 689.7C224.27 691.88 225.77 695.15 227.4 696.6C229.03 698.05 231.23 698.1 232 698.4M219.4 652.1C219.4 654.77 219.45 663.88 219.4 668.1C219.35 672.32 219.83 675.42 219.1 677.4C218.37 679.38 217.05 679.32 215 680C212.95 680.68 208.85 680.75 206.8 681.5C204.75 682.25 203.47 682.97 202.7 684.5C201.93 686.03 201.52 688.38 202.2 690.7C202.88 693.02 206.03 697.12 206.8 698.4M239.4 652.1C239.4 654.77 239.18 664.23 239.4 668.1C239.62 671.97 239.67 673.15 240.7 675.3C241.73 677.45 245.08 679.12 245.6 681C246.12 682.88 244.95 684.98 243.8 686.6C242.65 688.22 239.73 688.98 238.7 690.7C237.67 692.42 237.78 695.87 237.6 696.9M258.9 652.1C258.9 654.77 258.95 663.88 258.9 668.1C258.85 672.32 257.83 674.83 258.6 677.4C259.37 679.97 262.03 681.62 263.5 683.5C264.97 685.38 267.23 686.85 267.4 688.7C267.57 690.55 266.68 693.42 264.5 694.6C262.32 695.78 256 695.6 254.3 695.8M120.9 498.4L120.9 551.5M120.9 615.5L120.9 668.1M140.4 498.4L140.4 551.5M140.4 615.5L140.4 668.1M160.4 498.4L160.4 551.5M160.4 615.5L160.4 668.1M179.9 498.4L179.9 551.5M179.9 615.5L179.9 668.1M199.7 498.4L199.7 551.5M199.7 615.5L199.7 668.1M219.4 498.4L219.4 551.5M219.4 615.5L219.4 668.1M239.4 498.4L239.4 551.5M239.4 615.5L239.4 668.1M258.9 498.4L258.9 551.5M258.9 615.5L258.9 668.1" fill="none" stroke="#c1272d" stroke-width="3.1" stroke-linecap="round" stroke-linejoin="round"/>
<g fill="none" stroke="#787878" stroke-width="3" stroke-dasharray="3 3.4">
<ellipse cx="190.2" cy="522.5" rx="82.6" ry="19.8"/>
<ellipse cx="190.6" cy="583.2" rx="82.6" ry="20"/>
</g>
<path d="M279.4 522.8H298.4" stroke="#a0a0a0" stroke-width="2.2"/>
<path d="M303.4 522.8L296.4 519.5L296.4 526.1Z" fill="#a0a0a0"/>
<path d="M278.1 583.6H297.2" stroke="#a0a0a0" stroke-width="2.2"/>
<path d="M302.2 583.6L295.2 580.3L295.2 586.9Z" fill="#a0a0a0"/>
<rect x="593.3" y="482.2" width="140" height="79.1" rx="9" fill="#ebbbbe"/>
<rect x="593.3" y="596.6" width="140" height="79.1" rx="9" fill="#ebbbbe"/>
<path d="M608.33 467.15C608.75 467.79 609.61 470.01 610.89 470.97C612.17 471.93 614.25 472.36 616.01 472.91C617.77 473.46 620.23 473.44 621.47 474.28C622.71 475.12 623.51 475.77 623.44 477.95C623.36 480.14 621.44 482.36 621.05 487.38C620.65 492.41 621.05 504.67 621.05 508.12M604.4 508.12C604.4 504.67 604.36 491.93 604.4 487.38C604.44 482.84 603.56 482.51 604.66 480.83C605.75 479.15 608.17 478.42 610.97 477.3C613.78 476.19 618.4 475.4 621.47 474.14C624.55 472.88 626.64 471.06 629.41 469.74C632.19 468.42 635.51 466.59 638.12 466.22C640.72 465.84 643.54 466.58 645.03 467.51C646.53 468.45 647.37 470.45 647.08 471.83C646.8 473.21 644.71 474.53 643.33 475.79C641.95 477.05 639.67 477.46 638.8 479.39C637.93 481.32 638.23 482.6 638.12 487.38C638 492.17 638.12 504.67 638.12 508.12M658.52 464.56C659.17 465.11 661.69 466.54 662.45 467.87C663.2 469.2 663.78 471.03 663.04 472.55C662.3 474.08 659.43 475.76 658.01 477.02C656.58 478.28 655.05 478.38 654.51 480.11C653.97 481.84 654.72 482.72 654.76 487.38C654.81 492.05 654.76 504.67 654.76 508.12M681.31 467.51C680.36 467.82 677.5 468.66 675.59 469.38C673.69 470.1 671.14 470.75 669.87 471.83C668.61 472.91 667.75 474.54 667.99 475.86C668.24 477.18 670.71 477.83 671.32 479.75C671.94 481.67 671.61 482.66 671.67 487.38C671.72 492.11 671.67 504.67 671.67 508.12M687.12 467.87C686.49 468.71 683.25 471.26 683.36 472.91C683.47 474.57 686.95 476.55 687.8 477.81C688.65 479.07 688.37 478.88 688.48 480.47C688.6 482.07 688.48 482.78 688.48 487.38C688.48 491.99 688.48 504.67 688.48 508.12M705.55 508.12C705.55 504.67 705.58 491.9 705.55 487.38C705.53 482.87 705.9 482.3 705.38 481.05C704.87 479.8 703.99 480.39 702.48 479.9C700.97 479.4 698.06 479.08 696.34 478.1C694.61 477.11 692.59 475.25 692.15 473.99C691.71 472.73 691.97 471.5 693.69 470.54C695.41 469.58 699.27 469.02 702.48 468.23C705.7 467.44 709.77 465.88 712.98 465.78C716.2 465.69 719.75 466.59 721.77 467.66C723.79 468.72 724.96 470.54 725.1 472.19C725.24 473.85 723.11 476.21 722.63 477.59C722.14 478.97 722.27 478.84 722.2 480.47C722.13 482.1 722.2 482.78 722.2 487.38C722.2 491.99 722.2 504.67 722.2 508.12M604.4 535.48C604.4 538.93 604.22 551.21 604.4 556.22C604.58 561.22 605.64 562.79 605.51 565.49C605.38 568.18 603.73 570.2 603.63 572.4C603.53 574.6 604.23 576.75 604.91 578.69C605.6 580.62 607.3 581.88 607.73 584.03C608.16 586.18 607.96 589.58 607.47 591.57C606.99 593.56 605.34 594.26 604.83 595.97C604.31 597.68 604.47 597.37 604.4 601.82C604.33 606.28 604.4 619.22 604.4 622.71M621.05 535.48C621.05 538.93 621.05 551.14 621.05 556.22C621.05 561.29 620.59 563.69 621.05 565.93C621.5 568.16 621.94 568.5 623.78 569.63C625.61 570.77 629.75 571.44 632.06 572.71C634.36 573.99 636.71 575.66 637.61 577.3C638.5 578.95 637.71 580.89 637.44 582.58C637.16 584.28 635.96 585.88 635.98 587.49C636.01 589.09 637.25 590.79 637.61 592.2C637.96 593.61 638.03 594.37 638.12 595.97C638.2 597.57 638.12 597.37 638.12 601.82C638.12 606.28 638.12 619.22 638.12 622.71M638.12 535.48C638.12 538.93 638.06 551.32 638.12 556.22C638.18 561.11 637.41 562.75 638.46 564.86C639.51 566.97 642.61 567.41 644.43 568.88C646.26 570.35 648.93 572.11 649.39 573.66C649.84 575.21 648.75 576.67 647.17 578.18C645.59 579.69 642.59 581.26 639.91 582.71C637.24 584.15 633.41 586.43 631.12 586.86C628.83 587.29 627.76 585.34 626.17 585.29C624.57 585.23 622.34 585.55 621.56 586.54C620.78 587.54 621.49 588.71 621.47 591.26C621.46 593.8 621.47 596.58 621.47 601.82C621.47 607.06 621.47 619.22 621.47 622.71M654.76 535.48C654.76 538.93 654.66 551.21 654.76 556.22C654.86 561.22 654.85 563.15 655.36 565.49C655.87 567.82 656.76 568.84 657.84 570.2C658.92 571.56 661.29 572.4 661.85 573.66C662.4 574.91 660.91 576.61 661.17 577.74C661.42 578.87 661.88 580.04 663.39 580.45C664.89 580.85 668.11 580.49 670.21 580.19C672.32 579.9 674.82 579.67 676.02 578.69C677.21 577.7 677.71 575.6 677.38 574.29C677.06 572.98 675.02 572.03 674.06 570.83C673.09 569.62 671.98 569.49 671.58 567.06C671.18 564.62 671.65 561.48 671.67 556.22C671.68 550.95 671.67 538.93 671.67 535.48M688.48 535.48C688.48 538.93 688.45 551 688.48 556.22C688.51 561.43 687.5 563.99 688.65 566.74C689.81 569.49 693.69 570.78 695.4 572.71C697.1 574.65 698.82 576.45 698.9 578.37C698.97 580.29 698 582.54 695.82 584.22C693.65 585.89 689.11 587.05 685.84 588.43C682.56 589.81 678.54 591.31 676.19 592.51C673.84 593.72 672.5 594.11 671.75 595.66C671 597.21 671.68 597.31 671.67 601.82C671.65 606.33 671.67 619.22 671.67 622.71M654.76 622.71C654.76 619.22 654.83 606.8 654.76 601.82C654.69 596.84 654.95 595.01 654.34 592.83C653.73 590.65 651.46 590.07 651.09 588.74C650.72 587.41 650.71 585.75 652.12 584.85C653.53 583.94 656.84 583.19 659.54 583.34C662.25 583.48 665.7 585.03 668.34 585.73C670.97 586.42 672.78 587.49 675.34 587.49C677.9 587.49 681.68 585.67 683.7 585.73C685.72 585.78 686.72 586.56 687.46 587.8C688.2 589.04 687.97 590.81 688.14 593.14C688.31 595.48 688.42 596.89 688.48 601.82C688.54 606.75 688.48 619.22 688.48 622.71M705.55 535.48C705.55 538.93 705.53 551 705.55 556.22C705.58 561.43 705.27 564.31 705.73 566.74C706.18 569.18 706.93 569.73 708.29 570.83C709.64 571.93 712.24 572.09 713.83 573.34C715.43 574.6 716.96 576.12 717.85 578.37C718.73 580.62 718.32 584.45 719.13 586.86C719.94 589.27 722.2 590.33 722.71 592.83C723.22 595.32 722.29 596.84 722.2 601.82C722.11 606.8 722.2 619.22 722.2 622.71M722.2 535.48C722.2 538.93 722.38 550.85 722.2 556.22C722.02 561.58 722.33 564.99 721.09 567.69C719.85 570.38 716.37 570.57 714.77 572.4C713.18 574.23 712.77 576.01 711.53 578.69C710.29 581.36 708.37 586.02 707.35 588.43C706.32 590.84 705.68 590.91 705.38 593.14C705.08 595.37 705.53 596.89 705.55 601.82C705.58 606.75 705.55 619.22 705.55 622.71M604.4 649.59C604.4 653.08 604.39 666.03 604.4 670.48C604.41 674.93 604.58 674.77 604.49 676.29C604.39 677.81 604.09 678.14 603.8 679.59C603.52 681.05 602.61 683.48 602.78 685.01C602.95 686.54 603.45 687.65 604.83 688.77C606.21 689.89 608.4 690.89 611.06 691.74C613.72 692.59 617.43 693.41 620.79 693.85C624.15 694.29 628.42 694.42 631.2 694.38C633.99 694.33 636.01 694.08 637.52 693.59C639.03 693.09 639.74 692.21 640.25 691.41C640.76 690.61 641.05 689.48 640.59 688.77C640.14 688.05 639.09 687.39 637.52 687.12C635.96 686.84 632.83 686.93 631.2 687.12C629.58 687.31 628.83 687.7 627.79 688.24C626.75 688.78 625.44 690 624.97 690.35M621.05 649.59C621.05 653.08 620.97 665.48 621.05 670.48C621.12 675.48 621.1 677.54 621.47 679.59C621.84 681.65 622.21 682.06 623.27 682.83C624.32 683.6 625.77 683.85 627.79 684.21C629.81 684.58 633.42 684.7 635.39 685.01C637.35 685.31 638.6 685.64 639.57 686.06C640.54 686.48 640.92 687.27 641.19 687.51M638.12 649.59C638.12 653.08 638.19 665.57 638.12 670.48C638.05 675.39 637.45 677.23 637.69 679.07C637.93 680.9 638.82 680.71 639.57 681.51C640.32 682.31 641.82 683.04 642.22 683.88C642.61 684.73 642.27 685.93 641.96 686.59C641.65 687.25 640.61 687.63 640.34 687.84M654.76 649.59C654.76 653.08 654.81 665.43 654.76 670.48C654.72 675.52 654.11 677.5 654.51 679.86C654.91 682.21 657.05 683.26 657.15 684.61C657.25 685.96 656.13 687 655.11 687.98C654.08 688.96 652.05 689.74 651.01 690.48C649.97 691.23 649.23 692.13 648.87 692.46M671.67 649.59C671.67 653.08 671.55 665.54 671.67 670.48C671.78 675.41 671.48 677.35 672.35 679.2C673.22 681.05 674.81 680.9 676.87 681.57C678.94 682.25 682.39 682.27 684.73 683.22C687.06 684.18 689.11 685.88 690.87 687.32C692.64 688.76 693.92 690.91 695.31 691.87C696.71 692.83 698.58 692.86 699.24 693.06M688.48 649.59C688.48 653.08 688.52 665.54 688.48 670.48C688.44 675.41 688.85 677.46 688.23 679.2C687.6 680.94 686.48 680.46 684.73 680.91C682.98 681.37 679.48 681.41 677.73 681.9C675.98 682.4 674.88 682.87 674.23 683.88C673.57 684.9 673.22 686.45 673.8 687.98C674.38 689.51 677.07 692.21 677.73 693.06M705.55 649.59C705.55 653.08 705.37 665.78 705.55 670.48C705.74 675.18 705.78 675.96 706.66 677.81C707.55 679.66 710.41 680.33 710.85 681.57C711.29 682.82 710.29 684.2 709.31 685.27C708.33 686.34 705.84 686.84 704.96 687.98C704.07 689.11 704.17 691.39 704.02 692.07M722.2 649.59C722.2 653.08 722.24 665.54 722.2 670.48C722.16 675.41 721.29 677.07 721.94 679.2C722.6 681.32 724.87 681.98 726.13 683.22C727.38 684.47 729.31 685.44 729.46 686.66C729.6 687.88 728.84 689.77 726.98 690.55C725.12 691.33 719.72 691.21 718.27 691.34M604.4 487.38L604.4 556.22M604.4 601.82L604.4 670.48M621.05 487.38L621.05 556.22M621.05 601.82L621.05 670.48M638.12 487.38L638.12 556.22M638.12 601.82L638.12 670.48M654.76 487.38L654.76 556.22M654.76 601.82L654.76 670.48M671.67 487.38L671.67 556.22M671.67 601.82L671.67 670.48M688.48 487.38L688.48 556.22M688.48 601.82L688.48 670.48M705.55 487.38L705.55 556.22M705.55 601.82L705.55 670.48M722.2 487.38L722.2 556.22M722.2 601.82L722.2 670.48" fill="none" stroke="#c1272d" stroke-width="3" stroke-linecap="round" stroke-linejoin="round"/>
<text x="95.6" y="444.7" font-family='"Liberation Sans", sans-serif' font-size="21" fill="#000" text-anchor="start" >Less-entangled form <tspan font-family='"Liberation Serif", serif'>II</tspan></text>
<text x="576" y="445" font-family='"Liberation Sans", sans-serif' font-size="21" fill="#000" text-anchor="start" >Transformed form <tspan font-family='"Liberation Serif", serif'>I</tspan></text>
<text x="311.7" y="519.8" font-family='"Liberation Sans", sans-serif' font-size="19" fill="#0a6fc2" text-anchor="start" >Low nucleation barrier</text>
<text x="311.7" y="548" font-family='"Liberation Sans", sans-serif' font-size="19" fill="#0a6fc2" text-anchor="start" >Easy conformational change</text>
<text x="311.7" y="579.8" font-family='"Liberation Sans", sans-serif' font-size="19" fill="#0a6fc2" text-anchor="start" >Less entanglements</text>
<text x="311.7" y="608" font-family='"Liberation Sans", sans-serif' font-size="19" fill="#0a6fc2" text-anchor="start" >High chain mobility</text>
<text x="312" y="752.6" font-family='"Liberation Sans", sans-serif' font-size="21" fill="#000" text-anchor="start" >Fast <tspan font-family='"Liberation Serif", serif'>II</tspan>-<tspan font-family='"Liberation Serif", serif'>I</tspan> phase transition</text>
<path d="M94 729.4H758" stroke="#808080" stroke-width="2.2"/>
<path d="M764.8 729.4L754.3 724.3L757.3 729.4L754.3 734.5Z" fill="#808080"/>
<text x="628.6" y="711.3" font-family='"Liberation Sans", sans-serif' font-size="14.7" fill="#0a6fc2" text-anchor="start" >Contraction</text>
<path d="M601.9 704.7H612.3V702.5L616.8 706.9L612.3 711.3V709.1H601.9Z" fill="#0a6fc2"/>
<path d="M725.7 704.7H715.7V702.5L711.2 706.9L715.7 711.3V709.1H725.7Z" fill="#0a6fc2"/>
<text transform="translate(746.6 604.8) rotate(90)" font-family='"Liberation Sans", sans-serif' font-size="14.5" fill="#0a6fc2">Extension</text>
<path d="M749.7 600.8V590H747.6L752 585.8L756.3 590H754V600.8Z" fill="#0a6fc2"/>
<path d="M749.7 673.2V684.2H747.6L752 688.6L756.3 684.2H754V673.2Z" fill="#0a6fc2"/>
</svg></body></html>
